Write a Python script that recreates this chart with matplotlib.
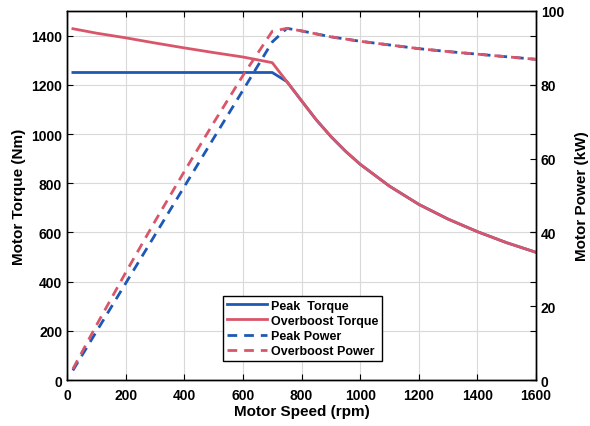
import matplotlib
matplotlib.use("Agg")
import matplotlib.pyplot as plt

plt.rcParams["font.family"] = ["Liberation Sans", "DejaVu Sans"]
plt.rcParams["font.weight"] = "bold"

# motor speed (rpm)
speed_low = [20, 100, 200, 300, 400, 500, 600, 700]
speed_high = [750, 800, 850, 900, 950, 1000, 1100, 1200, 1300, 1400, 1500, 1600]

# torque (Nm)
peak_torque_low = [1250, 1250, 1250, 1250, 1250, 1250, 1250, 1250]
overboost_torque_low = [1428, 1410, 1391, 1370, 1350, 1331, 1313, 1290]
torque_high = [1213, 1135, 1058, 990, 930, 877, 788, 714, 654, 603, 558, 519]

# power (kW)
peak_power_low = [2.6, 13.1, 26.2, 39.3, 52.4, 65.5, 78.5, 91.6]
overboost_power_low = [3.0, 14.8, 29.1, 43.0, 56.5, 69.7, 82.5, 94.5]
power_high = [95.3, 94.6, 93.8, 93.0, 92.4, 91.8, 90.8, 89.8, 89.0, 88.3, 87.6, 86.9]

BLUE = "#1d58b4"
RED = "#d9566a"

fig = plt.figure(figsize=(5.9, 4.27), dpi=100)
ax = fig.add_axes([0.1136, 0.1077, 0.795, 0.8642])
ax2 = ax.twinx()

lw = 2.0
h1, = ax.plot(speed_low + speed_high, peak_torque_low + torque_high, "-",
              color=BLUE, lw=lw, label="Peak  Torque")
h2, = ax.plot(speed_low + speed_high, overboost_torque_low + torque_high, "-",
              color=RED, lw=lw, label="Overboost Torque")
h3, = ax2.plot(speed_low + speed_high, peak_power_low + power_high,
               color=BLUE, lw=lw, dashes=(3.5, 2.5), label="Peak Power")
h4, = ax2.plot(speed_low + speed_high, overboost_power_low + power_high,
               color=RED, lw=lw, dashes=(3.5, 2.5), label="Overboost Power")

ax.set_xlim(0, 1600)
ax.set_ylim(0, 1500)
ax2.set_ylim(0, 100)
ax.set_xticks(range(0, 1601, 200))
ax.set_yticks(range(0, 1401, 200))
ax2.set_yticks(range(0, 101, 20))

ax.grid(True, color="#d9d9d9", lw=0.8)
ax.tick_params(direction="in", top=True, right=True, labelsize=10, length=4)
ax.tick_params(axis="x", pad=6)
ax2.tick_params(direction="in", labelsize=10, length=4)
for a in (ax, ax2):
    for lab in a.get_xticklabels() + a.get_yticklabels():
        lab.set_fontweight("bold")
    for s in a.spines.values():
        s.set_linewidth(1.0)

ax.set_xlabel("Motor Speed (rpm)", fontsize=11, fontweight="bold", labelpad=1)
ax.set_ylabel("Motor Torque (Nm)", fontsize=11, fontweight="bold")
ax2.set_ylabel("Motor Power (kW)", fontsize=11, fontweight="bold", labelpad=8)

leg = ax2.legend(handles=[h1, h2, h3, h4], loc="lower left",
                 bbox_to_anchor=(0.32, 0.035),
                 fancybox=False, framealpha=1, edgecolor="black",
                 handlelength=3.2, handletextpad=0.3, borderpad=0.3,
                 labelspacing=0.25, prop={"weight": "bold", "size": 9})
leg.get_frame().set_linewidth(1.0)

fig.savefig("out.png", dpi=100)
